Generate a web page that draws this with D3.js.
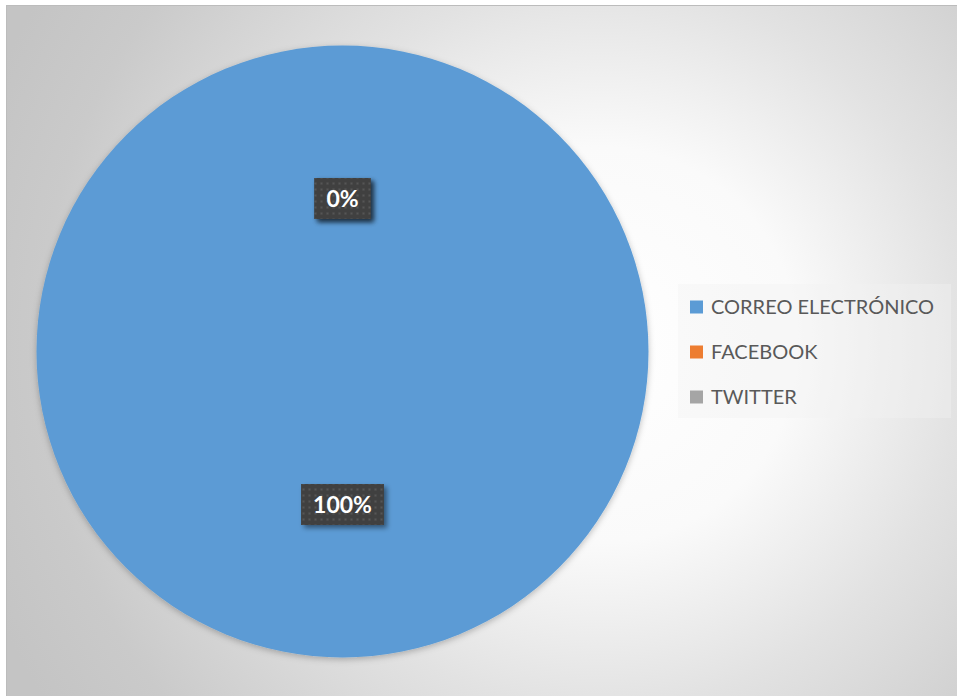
<!DOCTYPE html>
<html>
<head>
<meta charset="utf-8">
<script src="https://cdn.jsdelivr.net/npm/d3@7"></script>
<style>
  html, body { margin: 0; padding: 0; background: #ffffff; }
  svg { display: block; }
</style>
</head>
<body>
<div id="chart"></div>
<script>
const WIDTH = 957;
const HEIGHT = 696;

// Data
const categories = ["CORREO ELECTRÓNICO", "FACEBOOK", "TWITTER"];
const values = [100, 0, 0];
const colors = ["#5b9bd5", "#ed7d31", "#a5a5a5"];

const CENTER_X = 342.5;
const CENTER_Y = 351.5;
const RADIUS = 306;

const svg = d3.select("#chart")
  .append("svg")
  .attr("width", WIDTH)
  .attr("height", HEIGHT);

const defs = svg.append("defs");

// background radial gradient
const grad = defs.append("radialGradient")
  .attr("id", "bg")
  .attr("gradientUnits", "userSpaceOnUse")
  .attr("cx", 600).attr("cy", 345).attr("r", 660);
[[0, "#ffffff"], [0.3, "#fafafa"], [0.55, "#e2e2e2"], [0.85, "#cacaca"], [1, "#c4c4c4"]]
  .forEach(s => grad.append("stop").attr("offset", s[0]).attr("stop-color", s[1]));

// pie shadow
const pieShadow = defs.append("filter").attr("id", "pieShadow")
  .attr("x", "-10%").attr("y", "-10%").attr("width", "120%").attr("height", "120%");
pieShadow.append("feDropShadow")
  .attr("dx", 0).attr("dy", 2).attr("stdDeviation", 3)
  .attr("flood-color", "#000").attr("flood-opacity", 0.25);

// label shadow
const lblShadow = defs.append("filter").attr("id", "lblShadow")
  .attr("x", "-30%").attr("y", "-30%").attr("width", "160%").attr("height", "160%");
lblShadow.append("feDropShadow")
  .attr("dx", 3).attr("dy", 3).attr("stdDeviation", 2.5)
  .attr("flood-color", "#000").attr("flood-opacity", 0.45);

// dotted pattern for label boxes
const pat = defs.append("pattern")
  .attr("id", "dots")
  .attr("patternUnits", "userSpaceOnUse")
  .attr("width", 6).attr("height", 6);
pat.append("rect").attr("width", 6).attr("height", 6).attr("fill", "#404040");
pat.append("rect").attr("x", 2).attr("y", 2).attr("width", 2).attr("height", 2).attr("fill", "#575757");

// chart area
svg.append("rect")
  .attr("x", 6.5).attr("y", 5.5)
  .attr("width", WIDTH).attr("height", HEIGHT)
  .attr("fill", "url(#bg)")
  .attr("stroke", "#bcbcbc")
  .attr("stroke-width", 1);

// pie
const pie = d3.pie().sort(null).value(d => d);
const arcs = pie(values);
const arc = d3.arc().innerRadius(0).outerRadius(RADIUS);
const labelArc = d3.arc().innerRadius(0).outerRadius(RADIUS);

const g = svg.append("g")
  .attr("transform", "translate(" + CENTER_X + "," + CENTER_Y + ")");

g.append("g")
  .attr("filter", "url(#pieShadow)")
  .selectAll("path")
  .data(arcs)
  .enter()
  .append("path")
  .attr("d", arc)
  .attr("fill", (d, i) => colors[i]);

// data labels
const total = d3.sum(values);
const labels = g.selectAll(".lbl")
  .data(arcs)
  .enter()
  .append("g")
  .attr("class", "lbl")
  .attr("transform", d => "translate(" + labelArc.centroid(d) + ")");

labels.each(function(d) {
  const lg = d3.select(this);
  const txt = Math.round(d.value / total * 100) + "%";
  const t = lg.append("text")
    .text(txt)
    .attr("text-anchor", "middle")
    .attr("dy", "0.36em")
    .style("font-family", "Lato, 'Noto Sans', sans-serif")
    .style("font-weight", "bold")
    .style("font-size", "23px")
    .attr("fill", "#ffffff");
  const w = t.node().getComputedTextLength() + 24;
  const h = 41;
  lg.insert("rect", "text")
    .attr("x", -w / 2).attr("y", -h / 2)
    .attr("width", w).attr("height", h)
    .attr("fill", "url(#dots)")
    .attr("filter", "url(#lblShadow)");
});

// legend
const legend = svg.append("g")
  .attr("transform", "translate(678,284)");
legend.append("rect")
  .attr("width", 273).attr("height", 134)
  .attr("fill", "#f2f2f2")
  .attr("fill-opacity", 0.39);

const items = legend.selectAll(".item")
  .data(categories)
  .enter()
  .append("g")
  .attr("class", "item")
  .attr("transform", (d, i) => "translate(12," + (23 + i * 45) + ")");
items.append("rect")
  .attr("x", 0).attr("y", -6.5)
  .attr("width", 13).attr("height", 13)
  .attr("fill", (d, i) => colors[i]);
items.append("text")
  .text(d => d)
  .attr("x", 21)
  .attr("dy", "0.36em")
  .style("font-family", "Lato, 'Noto Sans', sans-serif")
  .style("font-size", "20px")
  .attr("fill", "#595959");
</script>
</body>
</html>
